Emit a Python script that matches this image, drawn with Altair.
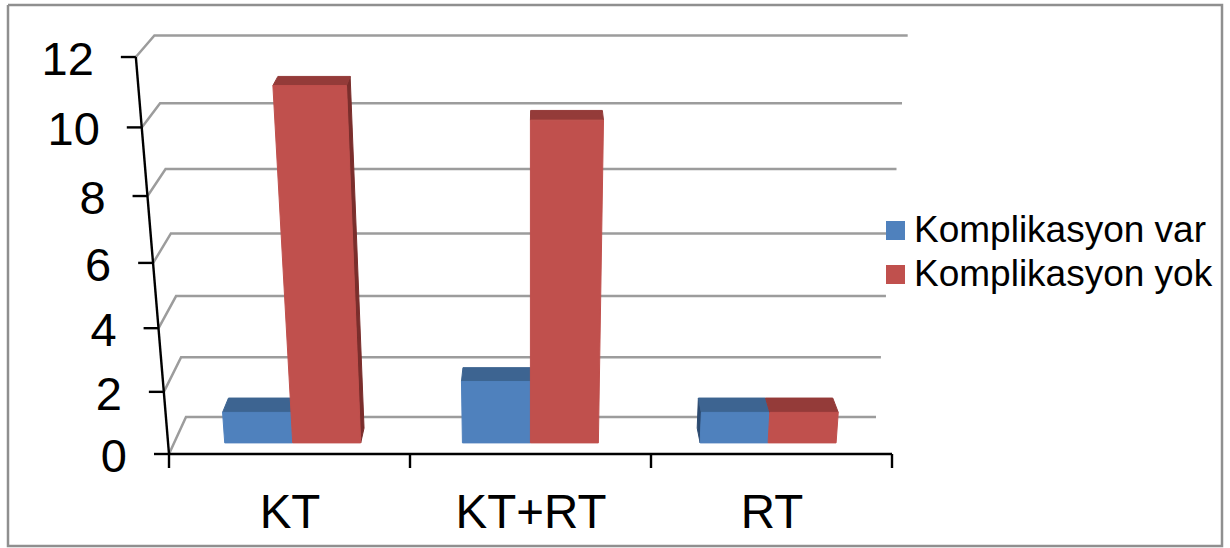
import altair as alt
import pandas as pd

# Chart content
categories = ["KT", "KT+RT", "RT"]
series_names = ["Komplikasyon var", "Komplikasyon yok"]
var_values = [1, 2, 1]
yok_values = [11, 10, 1]
value_ticks = [0, 2, 4, 6, 8, 10, 12]

W, H = 1230, 548
FONT = "Liberation Sans"

FRONT = {"Komplikasyon var": "#4F81BD", "Komplikasyon yok": "#C0504D"}
TOP = {"Komplikasyon var": "#3D6491", "Komplikasyon yok": "#943B39"}
SIDE = {"Komplikasyon var": "#2C4A70", "Komplikasyon yok": "#7A2E2C"}

# Bars occupy this share of the category slot and of the floor depth
BAR_START, BAR_END = 0.213, 0.785
DEPTH_NEAR, DEPTH_FAR = 0.3, 0.7


def project(u, v, d):
    """Perspective view: u = category position, v = value, d = depth (0 front, 1 back)."""
    left = 169 + 17 * d
    right = 892 - 16 * d
    x0 = left + (right - left) * u / 3
    x = 530.5 + (x0 - 530.5) / (1 - 0.007 * v)
    y = (454 - 37 * d) - (30.7 - 1.2 * d) * v / (1 - 0.006 * v)
    return round(x, 2), round(y, 2)


def polyline(rows, key, corners, **extra):
    for i, (u, v, d) in enumerate(corners):
        x, y = project(u, v, d)
        rows.append({"key": key, "i": i, "x": x, "y": y, **extra})


# Gridlines run up the left wall and along the back wall
grid_rows = []
for v in value_ticks:
    polyline(grid_rows, f"g{v}", [(0, v, 0), (0, v, 1), (3, v, 1)])

# Bar faces, back faces first so the front faces paint over them
face_rows = []
for s, (name, vals) in enumerate(zip(series_names, [var_values, yok_values])):
    for c, val in enumerate(vals):
        width = (BAR_END - BAR_START) / 2
        a = c + BAR_START + s * width
        b = a + width
        n, f = DEPTH_NEAR, DEPTH_FAR
        tag = f"{s}{c}"
        if s == 0 and project(a, 0, f)[0] < project(a, 0, n)[0]:
            polyline(face_rows, tag + "l", [(a, 0, n), (a, 0, f), (a, val, f), (a, val, n), (a, 0, n)], col=SIDE[name])
        if s == 1 and project(b, 0, f)[0] > project(b, 0, n)[0]:
            polyline(face_rows, tag + "r", [(b, 0, n), (b, 0, f), (b, val, f), (b, val, n), (b, 0, n)], col=SIDE[name])
        polyline(face_rows, tag + "t", [(a, val, n), (a, val, f), (b, val, f), (b, val, n), (a, val, n)], col=TOP[name])
        polyline(face_rows, tag + "f", [(a, 0, n), (a, val, n), (b, val, n), (b, 0, n), (a, 0, n)], col=FRONT[name])

# Axis lines and tick marks
axis_rows = []
polyline(axis_rows, "value-axis", [(0, 0, 0), (0, 12, 0)])
polyline(axis_rows, "cat-axis", [(0, 0, 0), (3, 0, 0)])
for v in value_ticks:
    x, y = project(0, v, 0)
    axis_rows += [{"key": f"vt{v}", "i": 0, "x": x - 15, "y": y}, {"key": f"vt{v}", "i": 1, "x": x, "y": y}]
for u in range(4):
    x, y = project(u, 0, 0)
    axis_rows += [{"key": f"ct{u}", "i": 0, "x": x, "y": y}, {"key": f"ct{u}", "i": 1, "x": x, "y": y + 14}]

value_labels = pd.DataFrame(
    [{"t": str(v), "x": project(0, v, 0)[0] - 42, "y": project(0, v, 0)[1] + 18} for v in value_ticks]
)
cat_labels = pd.DataFrame(
    [{"t": t, "x": project(i + 0.5, 0, 0)[0] + 0.5, "y": project(0, 0, 0)[1] + 74} for i, t in enumerate(categories)]
)
frame = pd.DataFrame(
    {"key": "frame", "i": range(5), "x": [8, 1222, 1222, 8, 8], "y": [5, 5, 546, 546, 5]}
)
legend_rows = pd.DataFrame({"name": series_names, "x": [project(0, 0, 0)[0]] * 2, "y": [project(0, 0, 0)[1]] * 2})

X = alt.X("x:Q", scale=alt.Scale(domain=[0, W], range=[0, W], nice=False, zero=False), axis=None)
Y = alt.Y("y:Q", scale=alt.Scale(domain=[0, H], range=[0, H], nice=False, zero=False), axis=None)


def lines(rows, color, width):
    return alt.Chart(pd.DataFrame(rows)).mark_line(
        color=color, strokeWidth=width, interpolate="linear", clip=False
    ).encode(x=X, y=Y, detail="key:N", order="i:Q")


faces = alt.Chart(pd.DataFrame(face_rows)).mark_line(strokeWidth=1, fill="#000000", interpolate="linear").encode(
    x=X,
    y=Y,
    detail="key:N",
    order="i:Q",
    fill=alt.Fill("col:N", scale=None),
    stroke=alt.Stroke("col:N", scale=None),
)


def texts(df, size, align):
    return alt.Chart(df).mark_text(
        font=FONT, fontSize=size, align=align, baseline="alphabetic", color="#000000"
    ).encode(x=X, y=Y, text="t:N")


legend_layer = alt.Chart(legend_rows).mark_square(size=1, opacity=0).encode(
    x=X,
    y=Y,
    color=alt.Color(
        "name:N",
        scale=alt.Scale(domain=series_names, range=[FRONT[n] for n in series_names]),
        legend=alt.Legend(
            title=None,
            orient="none",
            legendX=877,
            legendY=212,
            labelFont=FONT,
            labelFontSize=37,
            labelColor="#000000",
            labelLimit=400,
            symbolType="square",
            symbolSize=361,
            symbolOpacity=1,
            symbolStrokeWidth=0,
            rowPadding=6,
            labelOffset=0,
        ),
    ),
)

chart = (
    alt.layer(
        lines(frame.to_dict("records"), "#8F8F8F", 2.5),
        lines(grid_rows, "#9C9C9C", 2.5),
        faces,
        lines(axis_rows, "#000000", 2.4),
        texts(value_labels, 47, "right"),
        texts(cat_labels, 47.5, "center"),
        legend_layer,
    )
    .properties(width=W, height=H, padding=0, autosize=alt.AutoSizeParams(type="none"), background="#FFFFFF")
    .configure_view(stroke=None)
)

chart.save("out.html", embed_options={"renderer": "svg", "actions": False})
